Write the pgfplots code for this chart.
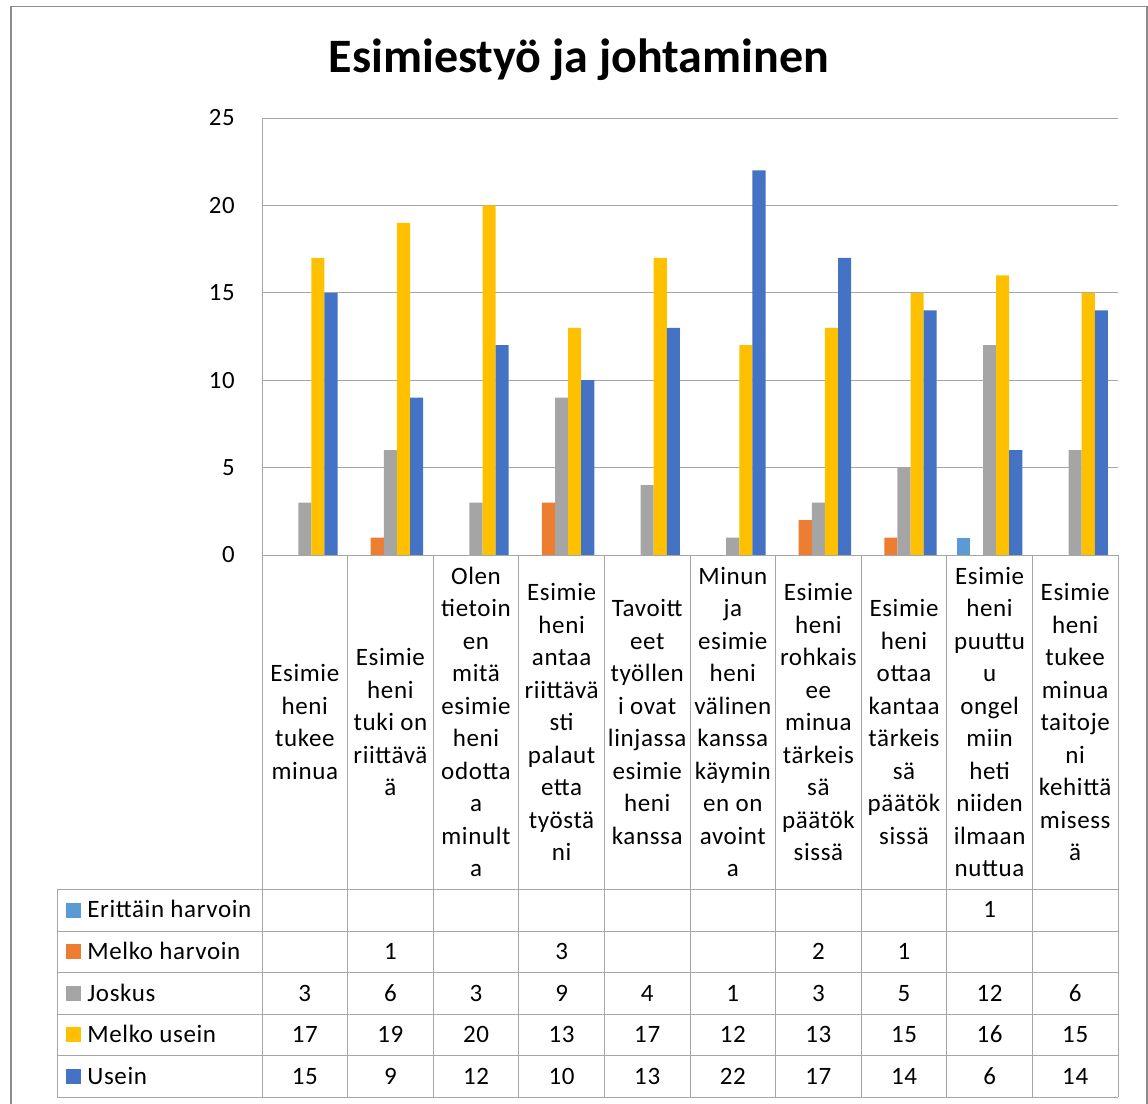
\documentclass[border=0pt]{standalone}
\usepackage{fontspec}
\setmainfont{Carlito}
\newfontfamily\tabfont{Carlito}[LetterSpace=2.5]
\usepackage{pgfplots}
\pgfplotsset{compat=1.18}
\definecolor{cA}{RGB}{91,155,213}
\definecolor{cB}{RGB}{237,125,49}
\definecolor{cC}{RGB}{165,165,165}
\definecolor{cD}{RGB}{255,192,0}
\definecolor{cE}{RGB}{68,114,196}
\definecolor{gridc}{RGB}{166,166,166}
\definecolor{framec}{RGB}{140,140,140}
\begin{document}
\begin{tikzpicture}
\begin{scope}[x=0.5pt,y=-0.5pt]
\useasboundingbox (0,0) rectangle (1148,1104);
\draw[framec, line width=0.75pt] (11,6.7) rectangle (1147,1130);
\node[font=\fontsize{24}{28}\selectfont\bfseries, anchor=base, inner sep=0pt] at (579,72) {Esimiestyö ja johtaminen};
\end{scope}
\begin{axis}[
  at={(131pt,-277.5pt)}, anchor=south west,
  scale only axis, width=428pt, height=218.5pt,
  ybar=0pt, bar width=6.55pt,
  xmin=-0.5, xmax=9.5, ymin=0, ymax=25,
  ytick={0,5,...,25}, xtick=\empty,
  ymajorgrids, major grid style={gridc, line width=0.5pt},
  axis line style={draw=none},
  major tick length=0pt,
  yticklabel style={font=\tabfont\fontsize{12.4}{14}\selectfont, anchor=east, inner sep=0pt, xshift=-13.5pt},
  /pgf/number format/assume math mode=true,
]
\addplot[fill=cA, draw=none] coordinates {(8,1)};
\addplot[fill=cB, draw=none] coordinates {(1,1) (3,3) (6,2) (7,1)};
\addplot[fill=cC, draw=none] coordinates {(0,3) (1,6) (2,3) (3,9) (4,4) (5,1) (6,3) (7,5) (8,12) (9,6)};
\addplot[fill=cD, draw=none] coordinates {(0,17) (1,19) (2,20) (3,13) (4,17) (5,12) (6,13) (7,15) (8,16) (9,15)};
\addplot[fill=cE, draw=none] coordinates {(0,15) (1,9) (2,12) (3,10) (4,13) (5,22) (6,17) (7,14) (8,6) (9,14)};
\end{axis}
\begin{scope}[x=0.5pt,y=-0.5pt, tl/.style={gridc, line width=0.5pt},
  cat/.style={align=center, font=\tabfont\fontsize{12.5}{16.25}\selectfont, inner sep=0pt, anchor=center},
  val/.style={font=\tabfont\fontsize{12.5}{14}\selectfont, inner sep=0pt, anchor=base}]
\draw[tl] (262,118) -- (262,1097.3);
\foreach \k in {1,...,10} {\pgfmathsetmacro{\xx}{262+85.6*\k} \draw[tl] (\xx,555) -- (\xx,1097.3);}
\draw[tl] (262,555) -- (1118,555);
\foreach \yy in {889.3,931,972.7,1014,1055.7,1097.3} {\draw[tl] (57,\yy) -- (1118,\yy);}
\draw[tl] (57,889.3) -- (57,1097.3);
% category labels
\node[cat] at (304.8,722) {Esimie\\heni\\tukee\\minua};
\node[cat] at (390.4,722) {Esimie\\heni\\tuki on\\riittävä\\ä};
\node[cat] at (476.0,722) {Olen\\tietoin\\en\\mitä\\esimie\\heni\\odotta\\a\\minult\\a};
\node[cat] at (561.6,722) {Esimie\\heni\\antaa\\riittävä\\sti\\palaut\\etta\\työstä\\ni};
\node[cat] at (647.2,722) {Tavoitt\\eet\\työllen\\i ovat\\linjassa\\esimie\\heni\\kanssa};
\node[cat] at (732.8,722) {Minun\\ja\\esimie\\heni\\välinen\\kanssa\\käymin\\en on\\avoint\\a};
\node[cat] at (818.4,722) {Esimie\\heni\\rohkais\\ee\\minua\\tärkeis\\sä\\päätök\\sissä};
\node[cat] at (904.0,722) {Esimie\\heni\\ottaa\\kantaa\\tärkeis\\sä\\päätök\\sissä};
\node[cat] at (989.6,722) {Esimie\\heni\\puuttu\\u\\ongel\\miin\\heti\\niiden\\ilmaan\\nuttua};
\node[cat] at (1075.2,722) {Esimie\\heni\\tukee\\minua\\taitoje\\ni\\kehittä\\misess\\ä};
% legend keys
\fill[cA] (66,902.6) rectangle (81,917.6);
\fill[cB] (66,944.4) rectangle (81,959.4);
\fill[cC] (66,985.9) rectangle (81,1000.9);
\fill[cD] (66,1027.4) rectangle (81,1042.4);
\fill[cE] (66,1069) rectangle (81,1084);
\node[val, anchor=base west] at (87,917.7) {Erittäin harvoin};
\node[val, anchor=base west] at (87,959.5) {Melko harvoin};
\node[val, anchor=base west] at (87,1001) {Joskus};
\node[val, anchor=base west] at (87,1042.5) {Melko usein};
\node[val, anchor=base west] at (87,1084.1) {Usein};
% values
\node[val] at (989.6,917.7) {1};
\foreach \i/\v in {1/1,3/3,6/2,7/1} {\node[val] at ({304.8+85.6*\i},959.5) {\v};}
\foreach \i/\v in {0/3,1/6,2/3,3/9,4/4,5/1,6/3,7/5,8/12,9/6} {\node[val] at ({304.8+85.6*\i},1001) {\v};}
\foreach \i/\v in {0/17,1/19,2/20,3/13,4/17,5/12,6/13,7/15,8/16,9/15} {\node[val] at ({304.8+85.6*\i},1042.5) {\v};}
\foreach \i/\v in {0/15,1/9,2/12,3/10,4/13,5/22,6/17,7/14,8/6,9/14} {\node[val] at ({304.8+85.6*\i},1084.1) {\v};}
\end{scope}
\end{tikzpicture}
\end{document}
